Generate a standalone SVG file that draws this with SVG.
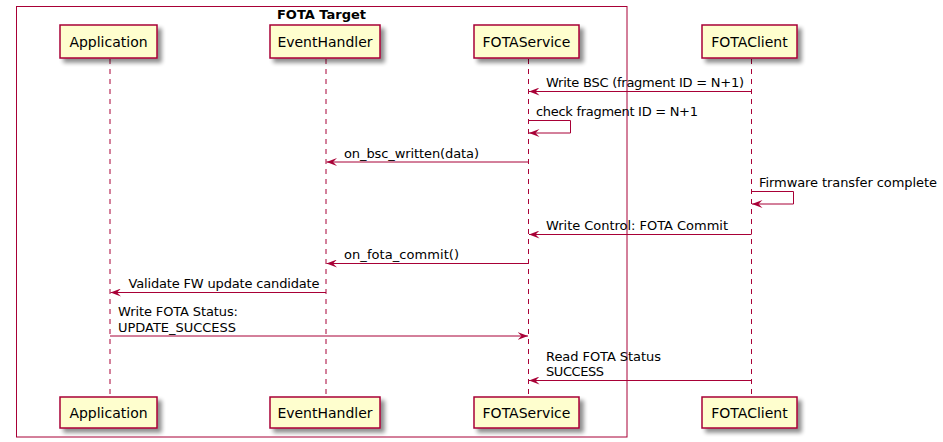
<svg xmlns="http://www.w3.org/2000/svg" width="943" height="442" viewBox="0 0 943 442">
<defs>
<filter id="sh" x="-20%" y="-30%" width="150%" height="180%">
<feGaussianBlur in="SourceAlpha" stdDeviation="2"/>
<feOffset dx="4" dy="4" result="b"/>
<feComponentTransfer><feFuncA type="linear" slope="0.45"/></feComponentTransfer>
<feMerge><feMergeNode/><feMergeNode in="SourceGraphic"/></feMerge>
</filter>
<marker id="ah" viewBox="0 0 11 8" refX="10.5" refY="4" markerWidth="11" markerHeight="8" markerUnits="userSpaceOnUse" orient="auto">
<polygon points="0,0 10.5,4 0,8 4,4" fill="#A80036"/>
</marker>
</defs>
<style>
.box{fill:#FEFECE;stroke:#A80036;stroke-width:1.5;filter:url(#sh)}
.pt{font-family:"DejaVu Sans",sans-serif;font-size:14px;fill:#000;text-anchor:middle}
.life{stroke:#A80036;stroke-width:1;stroke-dasharray:5,5}
.msg{stroke:#A80036;stroke-width:1;fill:none}
.ml{font-family:"DejaVu Sans",sans-serif;font-size:13px;fill:#000}
.frame{fill:none;stroke:#A80036;stroke-width:1}
.title{font-family:"DejaVu Sans",sans-serif;font-size:13px;font-weight:bold;fill:#000;text-anchor:middle}
</style>
<rect width="943" height="442" fill="#FFFFFF"/>
<g id="frame">
<rect class="frame" x="16.5" y="6.5" width="610.5" height="430.5"/>
<text class="title" x="321.5" y="18.5">FOTA Target</text>
</g>
<g id="lifelines">
<line class="life" x1="110" y1="59" x2="110" y2="397"/>
<line class="life" x1="326" y1="59" x2="326" y2="397"/>
<line class="life" x1="528.5" y1="59" x2="528.5" y2="397"/>
<line class="life" x1="751.5" y1="59" x2="751.5" y2="397"/>
</g>
<g id="Application">
<rect class="box" x="60" y="25" width="97" height="33"/>
<text class="pt" x="108.5" y="46.5">Application</text>
<rect class="box" x="60" y="397" width="97" height="31"/>
<text class="pt" x="108.5" y="417.5">Application</text>
</g>
<g id="EventHandler">
<rect class="box" x="270" y="25" width="110" height="33"/>
<text class="pt" x="325" y="46.5">EventHandler</text>
<rect class="box" x="270" y="397" width="110" height="31"/>
<text class="pt" x="325" y="417.5">EventHandler</text>
</g>
<g id="FOTAService">
<rect class="box" x="474" y="25" width="105" height="33"/>
<text class="pt" x="526.5" y="46.5">FOTAService</text>
<rect class="box" x="474" y="397" width="105" height="31"/>
<text class="pt" x="526.5" y="417.5">FOTAService</text>
</g>
<g id="FOTAClient">
<rect class="box" x="702" y="25" width="95" height="33"/>
<text class="pt" x="749.5" y="46.5">FOTAClient</text>
<rect class="box" x="702" y="397" width="95" height="31"/>
<text class="pt" x="749.5" y="417.5">FOTAClient</text>
</g>
<g id="connectors">
<path class="msg" d="M751.5,91.5 H529" marker-end="url(#ah)"/>
<text class="ml" x="546" y="86.5" textLength="198">Write BSC (fragment ID = N+1)</text>

<path class="msg" d="M528.5,120.5 H570.5 V133 H529" marker-end="url(#ah)"/>
<text class="ml" x="536" y="116" textLength="162">check fragment ID = N+1</text>

<path class="msg" d="M528.5,162 H326.5" marker-end="url(#ah)"/>
<text class="ml" x="344" y="157.5" textLength="135">on_bsc_written(data)</text>

<path class="msg" d="M751.5,191.5 H793.5 V204 H752" marker-end="url(#ah)"/>
<text class="ml" x="759" y="187" textLength="178">Firmware transfer complete</text>

<path class="msg" d="M751.5,234.5 H529" marker-end="url(#ah)"/>
<text class="ml" x="546" y="229.5" textLength="182">Write Control: FOTA Commit</text>

<path class="msg" d="M528.5,263.5 H326.5" marker-end="url(#ah)"/>
<text class="ml" x="344" y="258.5" textLength="115">on_fota_commit()</text>

<path class="msg" d="M326,292.5 H110.5" marker-end="url(#ah)"/>
<text class="ml" x="128.5" y="287.5" textLength="191">Validate FW update candidate</text>

<path class="msg" d="M110,336 H528" marker-end="url(#ah)"/>
<text class="ml" x="118" y="316" textLength="120">Write FOTA Status:</text>
<text class="ml" x="118" y="331.5" textLength="118">UPDATE_SUCCESS</text>

<path class="msg" d="M751.5,380.5 H529" marker-end="url(#ah)"/>
<text class="ml" x="546" y="360.5" textLength="115">Read FOTA Status</text>
<text class="ml" x="546" y="375.5" textLength="58">SUCCESS</text>
</g>
</svg>
